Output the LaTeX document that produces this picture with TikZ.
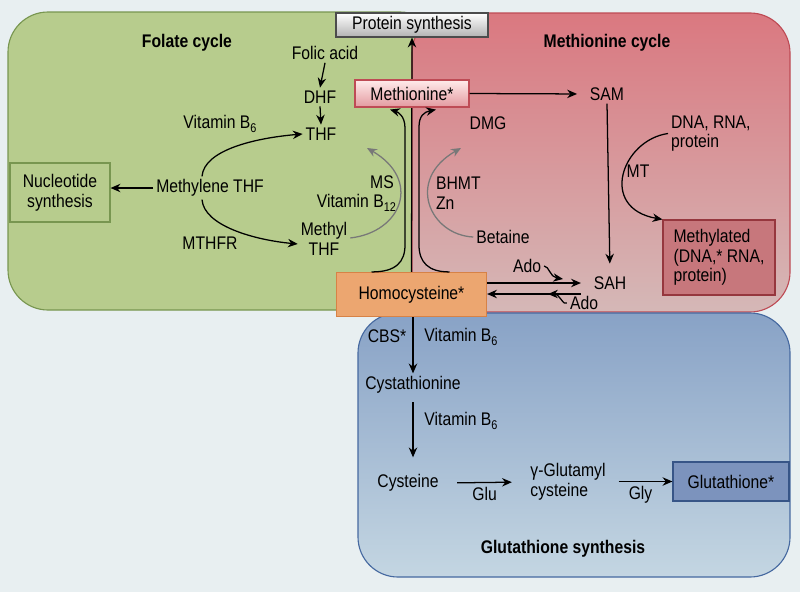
\documentclass[tikz,border=0pt]{standalone}
\usepackage{fontspec}
\setmainfont{Liberation Sans}[FakeStretch=0.86]
\usetikzlibrary{arrows.meta,calc}

\definecolor{bgcol}{RGB}{232,239,241}
\definecolor{folfill}{RGB}{183,204,141}
\definecolor{folline}{RGB}{120,150,80}
\definecolor{mettop}{RGB}{218,120,128}
\definecolor{metbot}{RGB}{213,184,183}
\definecolor{metline}{RGB}{190,75,85}
\definecolor{gshtop}{RGB}{136,162,198}
\definecolor{gshbot}{RGB}{196,214,226}
\definecolor{gshline}{RGB}{70,105,160}
\definecolor{hcyfill}{RGB}{236,166,112}
\definecolor{hcyline}{RGB}{215,130,70}
\definecolor{mdnafill}{RGB}{199,119,124}
\definecolor{mdnaline}{RGB}{150,55,62}
\definecolor{gshfill}{RGB}{124,147,189}
\definecolor{gshbox}{RGB}{55,85,135}
\definecolor{cofgray}{RGB}{120,120,120}

\newcommand{\vitB}[1]{Vitamin B\raisebox{-0.35ex}{\fontsize{9}{9}\selectfont #1}}

\tikzset{
  metab/.style      = {font=\fontsize{13}{14}\selectfont, inner sep=2pt, align=center},
  cycletitle/.style = {metab, font=\fontsize{13}{14}\selectfont\bfseries},
  poolbox/.style    = {metab, draw, line width=0.8pt},
  cyclebox/.style   = {rounded corners=1cm, line width=0.8pt},
  arr/.style        = {-{Stealth[length=7pt,width=6pt]}, line width=0.9pt},
  cofarr/.style     = {arr, cofgray}
}

\begin{document}
\begin{tikzpicture}[x=0.025cm, y=-0.025cm]
  \fill[bgcol] (0,0) rectangle (800,592);
  \useasboundingbox (0,0) rectangle (800,592);

  \draw[cyclebox, fill=folfill, draw=folline] (8,12) rectangle (440,310);
  \draw[cyclebox, draw=metline, top color=mettop, bottom color=metbot] (412,13) rectangle (790,312);
  \draw[cyclebox, draw=gshline, top color=gshtop, bottom color=gshbot] (358,313) rectangle (790,577);

  % folate cycle
  \node[cycletitle] (folt) at (187,43) {Folate cycle};
  \node[metab] (folic) at (325,53) {Folic acid};
  \node[metab] (dhf) at (320,97) {DHF};
  \node[metab] (thf) at (321,134) {THF};
  \node[metab] (vb6a) at (220,124) {\vitB{6}};
  \node[metab] (mthf) at (210,188) {Methylene THF};
  \node[metab] (mthfr) at (210,243) {MTHFR};
  \node[metab] (mthyl) at (324,239) {Methyl\\THF};
  \node[metab] (ms) at (382,182) {MS};
  \node[metab, anchor=east] (vb12) at (399,203) {\vitB{12}};
  \node[poolbox, draw=folline, fill=folfill, minimum width=2.5cm, minimum height=1.475cm]
    (nuc) at (60,192.5) {Nucleotide\\synthesis};
  \coordinate (msend) at (367,148);

  \draw[arr] (folic.south) -- (dhf.north);
  \draw[arr] (dhf.south) -- (thf.north);
  \draw[arr] (mthf.west) -- (mthf.west -| nuc.east);
  \draw[arr] ($(mthf.north)+(-8,0)$) .. controls (204,150) and (255,138) .. (thf.west);
  \draw[arr] ($(mthf.south)+(-8,0)$) .. controls (204,226) and (255,240) .. ($(mthyl.west)+(0,5)$);
  \draw[cofarr] ($(mthyl.east)+(0,-1)$) .. controls (402,232) and (422,180) .. (msend);

  % methionine cycle
  \node[poolbox, draw=black!70, top color=white, bottom color=black!30,
        minimum width=3.8cm, minimum height=0.6cm] (prot) at (412,25) {Protein synthesis};
  \node[poolbox, draw=hcyline, fill=hcyfill, minimum width=3.75cm, minimum height=1.1cm]
    (hcy) at (411.5,294.5) {Homocysteine*};
  \draw[arr] (hcy.north) -- (prot.south);
  \node[poolbox, draw=metline, top color=red!8, bottom color=mettop!75,
        minimum width=2.85cm, minimum height=0.675cm] (met) at (412,93.5) {Methionine*};

  \node[cycletitle] (mett) at (607,43) {Methionine cycle};
  \node[metab] (sam) at (607,94) {SAM};
  \node[metab] (sah) at (610,283) {SAH};
  \node[metab] (dmg) at (488,123) {DMG};
  \node[metab, anchor=west, align=left] (dna) at (668,133.5) {DNA, RNA,\\protein};
  \node[metab] (mt) at (638,171) {MT};
  \node[metab, anchor=west, align=left] (bhmt) at (433,193.5) {BHMT\\Zn};
  \node[metab] (bet) at (503,237) {Betaine};
  \node[metab] (ado1) at (527,266) {Ado};
  \node[metab] (ado2) at (584,303) {Ado};
  \node[poolbox, draw=mdnaline, fill=mdnafill, align=left, minimum width=2.8cm, minimum height=1.875cm]
    (mdna) at (719,257.5) {Methylated\\(DNA,* RNA,\\protein)};
  \coordinate (bhend) at (461,148);
  \coordinate (adoin) at (563,279);
  \coordinate (adoout) at (548,294);

  \draw[arr, shorten >=7pt] (met.east) -- (sam.west);
  \draw[arr, shorten >=7pt] (sam.south) -- (sah.north);
  \draw[arr] ($(hcy.north)+(-40,0)$) .. controls (396,272) and (405,262) .. (405,245)
    -- (405,128) .. controls (405,116) and (398,112) .. ($(met.south)+(-22,2)$);
  \draw[arr] ($(hcy.north)+(38,0)$) .. controls (428,272) and (419,262) .. (419,245)
    -- (419,127) .. controls (419,116) and (424,112) .. ($(met.south)+(24,2)$);
  \draw[cofarr] (bet.west) .. controls (430,235) and (405,180) .. (bhend);
  \draw[arr] (dna.west) .. controls (622,140) and (598,208) .. (mdna.north west);
  \draw[arr, shorten >=7pt] (hcy.east |- sah.west) -- (sah.west);
  \draw[arr, shorten <=7pt] ($(sah.west)+(0,11)$) -- (hcy.east |- {$(sah.west)+(0,11)$});
  \draw[arr] (ado1.east) .. controls (549,266) and (550,277) .. (adoin);
  \draw[arr] (ado2.west) .. controls (563,306) and (560,294) .. (adoout);

  % glutathione synthesis
  \node[cycletitle] (gsht) at (563,549) {Glutathione synthesis};
  \node[metab] (cbs) at (387,336) {CBS*};
  \node[metab] (vb6b) at (461,337) {\vitB{6}};
  \node[metab] (cysta) at (413,385) {Cystathionine};
  \node[metab] (vb6c) at (461,421) {\vitB{6}};
  \node[metab] (cys) at (408,483) {Cysteine};
  \node[metab, align=left] (ggc) at (568,482) {γ-Glutamyl\\cysteine};
  \node[poolbox, draw=gshbox, fill=gshfill, minimum width=2.9cm, minimum height=0.975cm]
    (gsh) at (731,481.5) {Glutathione*};

  \draw[arr] (cysta.north |- hcy.south) -- (cysta.north);
  \draw[arr, shorten <=4pt, shorten >=10pt] (cysta.south) -- (cysta.south |- cys.north);
  \draw[arr, shorten <=11pt, shorten >=11pt] (cys.east) -- (ggc.west)
    node[metab, midway, below=1pt] (glu) {Glu};
  \draw[arr, shorten <=7pt] (ggc.east |- gsh.west) -- (gsh.west)
    node[metab, midway, below=1pt] (gly) {Gly};
\end{tikzpicture}
\end{document}
